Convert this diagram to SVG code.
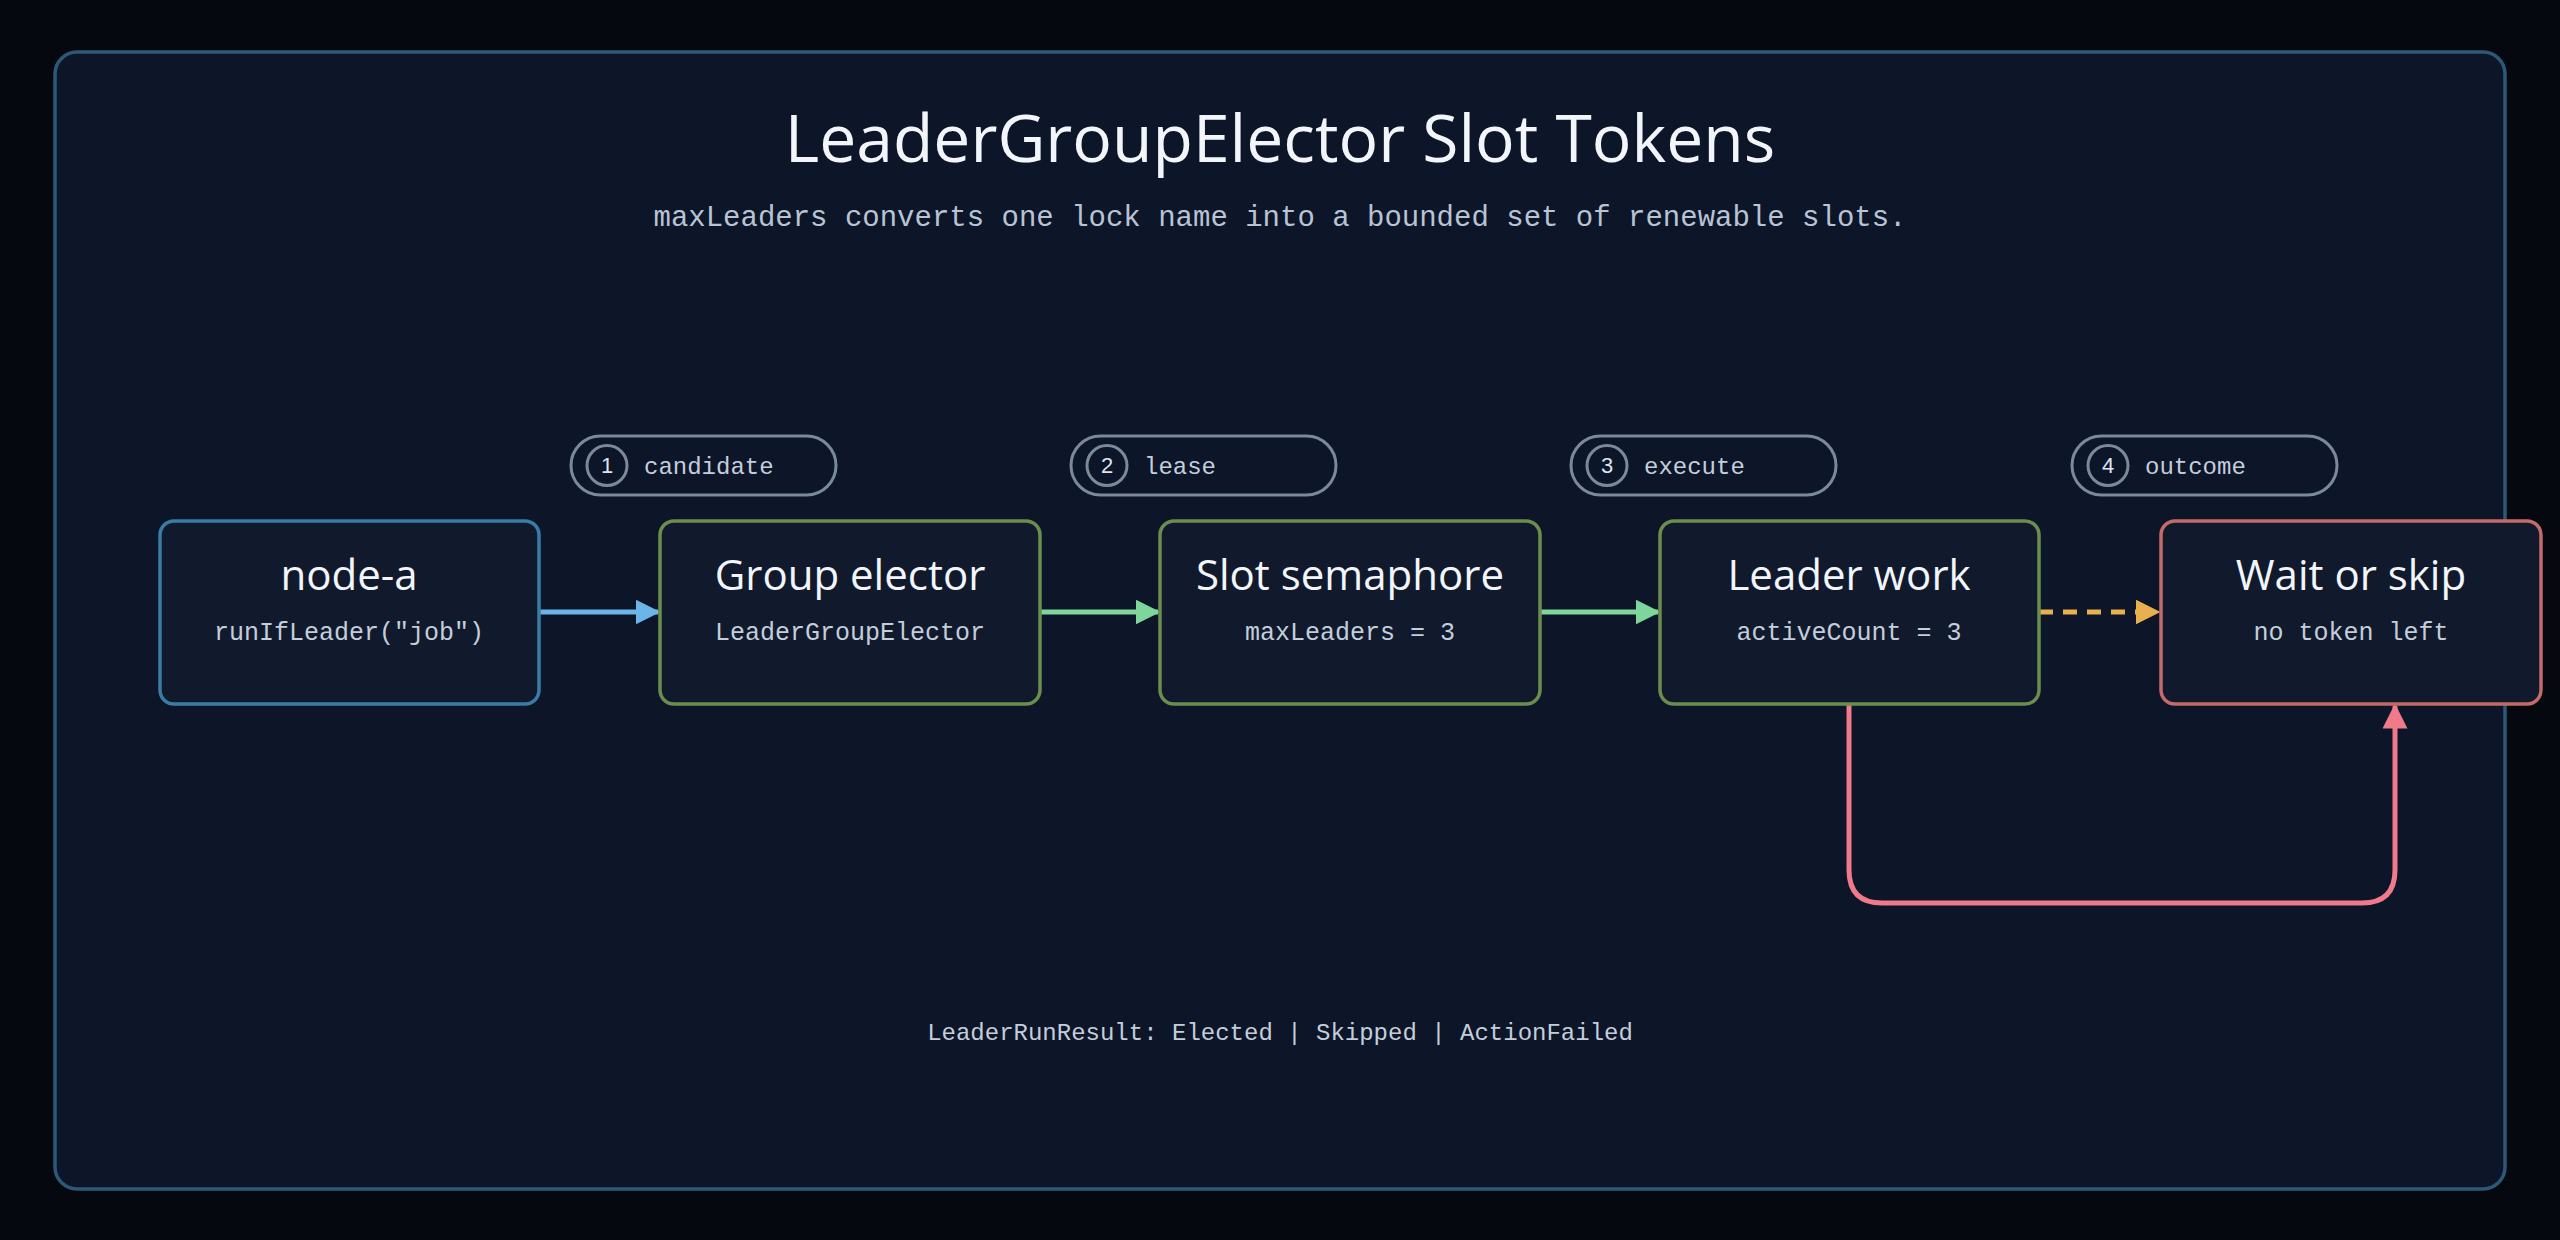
<svg xmlns="http://www.w3.org/2000/svg" width="2560" height="1240" viewBox="0 0 2560 1240">
<defs>
<style>
.node{fill:#111a2c;stroke-width:3.5}
.t{font-family:"Open Sans","Noto Sans",sans-serif;font-size:42px;fill:#f2f5fa;text-anchor:middle}
.s{font-family:"Liberation Mono",monospace;font-size:25px;fill:#c4cedb;text-anchor:middle}
.pill{fill:none;stroke:#7a8a98;stroke-width:3}
.pt{font-family:"Liberation Mono",monospace;font-size:24px;fill:#c4cedb}
.pn{font-family:"Liberation Sans",sans-serif;font-size:22px;fill:#dde4ec;text-anchor:middle}
.e{fill:none;stroke-width:5}
</style>
<marker id="ab" viewBox="0 0 10 10" refX="9" refY="5" markerWidth="5" markerHeight="5" orient="auto" markerUnits="strokeWidth"><path d="M0,0L10,5L0,10z" fill="#6bb5e8"/></marker>
<marker id="ag" viewBox="0 0 10 10" refX="9" refY="5" markerWidth="5" markerHeight="5" orient="auto" markerUnits="strokeWidth"><path d="M0,0L10,5L0,10z" fill="#7fd69a"/></marker>
<marker id="ao" viewBox="0 0 10 10" refX="9" refY="5" markerWidth="5" markerHeight="5" orient="auto" markerUnits="strokeWidth"><path d="M0,0L10,5L0,10z" fill="#e8b04e"/></marker>
<marker id="ar" viewBox="0 0 10 10" refX="9" refY="5" markerWidth="5" markerHeight="5" orient="auto" markerUnits="strokeWidth"><path d="M0,0L10,5L0,10z" fill="#f07a8a"/></marker>
</defs>
<rect width="2560" height="1240" fill="#05080f"/>
<rect x="55" y="52" width="2450" height="1137" rx="22" fill="#0d1528" stroke="#2e5878" stroke-width="3.5"/>
<text x="1280" y="162" font-family="Open Sans,Noto Sans,sans-serif" font-size="66" fill="#f2f5fa" text-anchor="middle">LeaderGroupElector Slot Tokens</text>
<text x="1280" y="226" font-family="Liberation Mono,monospace" font-size="29" fill="#b8c4d4" text-anchor="middle">maxLeaders converts one lock name into a bounded set of renewable slots.</text>
<g id="pills">
<g id="pill1"><rect class="pill" x="571" y="436" width="265" height="59" rx="29.5"/><circle class="pill" cx="607" cy="465.5" r="20"/><text class="pn" x="607" y="473">1</text><text class="pt" x="644" y="474">candidate</text></g>
<g id="pill2"><rect class="pill" x="1071" y="436" width="265" height="59" rx="29.5"/><circle class="pill" cx="1107" cy="465.5" r="20"/><text class="pn" x="1107" y="473">2</text><text class="pt" x="1144" y="474">lease</text></g>
<g id="pill3"><rect class="pill" x="1571" y="436" width="265" height="59" rx="29.5"/><circle class="pill" cx="1607" cy="465.5" r="20"/><text class="pn" x="1607" y="473">3</text><text class="pt" x="1644" y="474">execute</text></g>
<g id="pill4"><rect class="pill" x="2072" y="436" width="265" height="59" rx="29.5"/><circle class="pill" cx="2108" cy="465.5" r="20"/><text class="pn" x="2108" y="473">4</text><text class="pt" x="2145" y="474">outcome</text></g>
</g>
<g id="connectors">
<path class="e" stroke="#6bb5e8" d="M539,612H658" marker-end="url(#ab)"/>
<path class="e" stroke="#7fd69a" d="M1040,612H1158" marker-end="url(#ag)"/>
<path class="e" stroke="#7fd69a" d="M1540,612H1658" marker-end="url(#ag)"/>
<path class="e" stroke="#e8b04e" stroke-dasharray="14,10" d="M2039,612H2158" marker-end="url(#ao)"/>
<path class="e" stroke="#f07a8a" d="M1849,704V870Q1849,903 1882,903H2362Q2395,903 2395,870V706" marker-end="url(#ar)"/>
</g>
<g id="node-a"><rect class="node" stroke="#3a7ca5" x="160" y="521" width="379" height="183" rx="14"/><text class="t" x="349" y="590">node-a</text><text class="s" x="349" y="640">runIfLeader("job")</text></g>
<g id="group-elector"><rect class="node" stroke="#6b8e4e" x="660" y="521" width="380" height="183" rx="14"/><text class="t" x="850" y="590">Group elector</text><text class="s" x="850" y="640">LeaderGroupElector</text></g>
<g id="slot-semaphore"><rect class="node" stroke="#6b8e4e" x="1160" y="521" width="380" height="183" rx="14"/><text class="t" x="1350" y="590">Slot semaphore</text><text class="s" x="1350" y="640">maxLeaders = 3</text></g>
<g id="leader-work"><rect class="node" stroke="#6b8e4e" x="1660" y="521" width="379" height="183" rx="14"/><text class="t" x="1849" y="590">Leader work</text><text class="s" x="1849" y="640">activeCount = 3</text></g>
<g id="wait-skip"><rect class="node" stroke="#c46a6a" x="2161" y="521" width="380" height="183" rx="14"/><text class="t" x="2351" y="590">Wait or skip</text><text class="s" x="2351" y="640">no token left</text></g>
<text x="1280" y="1040" font-family="Liberation Mono,monospace" font-size="24" fill="#c4cedb" text-anchor="middle">LeaderRunResult: Elected | Skipped | ActionFailed</text>
</svg>
